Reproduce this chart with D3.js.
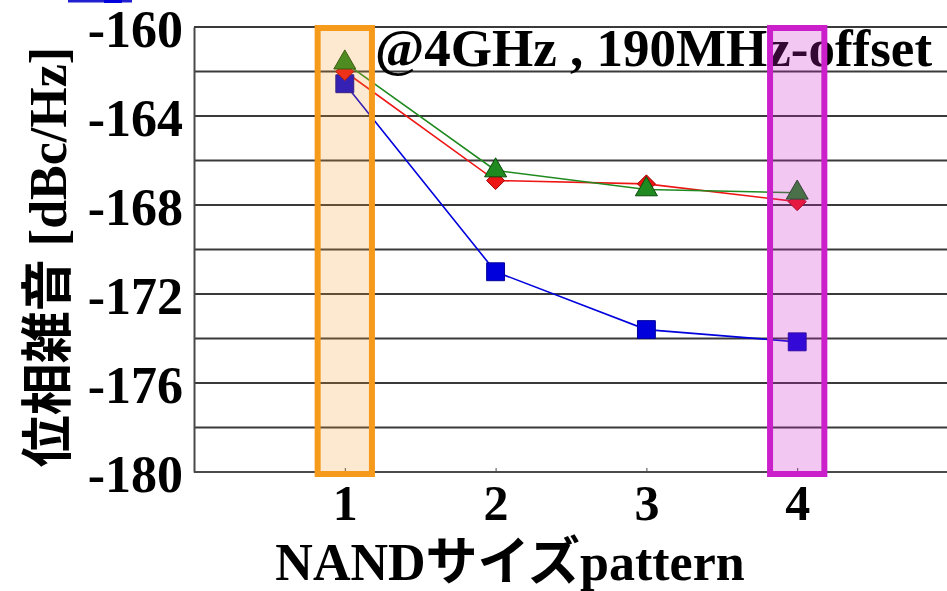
<!DOCTYPE html>
<html>
<head>
<meta charset="utf-8">
<script src="https://cdn.jsdelivr.net/npm/d3@7"></script>
<style>
  html, body { margin: 0; padding: 0; background: #fff; }
  svg { display: block; }
  text { font-family: "Liberation Serif", "Noto Sans CJK JP", serif; font-weight: bold; fill: #000; }
</style>
</head>
<body>
<svg id="chart" width="947" height="591"></svg>
<script>
// NAND size pattern vs. phase noise at 4 GHz, 190 MHz offset
const patterns = [1, 2, 3, 4];
const blueSeries  = [-162.55, -171.0, -173.6, -174.15];
const redSeries   = [-162.0, -166.9, -167.05, -167.85];
const greenSeries = [-161.6, -166.45, -167.3, -167.45];
const yTickLabels = [-180, -176, -172, -168, -164, -160];
const yGridValues = [-178, -176, -174, -172, -170, -168, -166, -164, -162, -160];
const highlighted = [1, 4];
const annotation = "@4GHz , 190MHz-offset";
const xTitle = "NANDサイズpattern";
const yTitle = "位相雑音 [dBc/Hz]";

const svg = d3.select("#chart");
const W = 947, H = 591;

const x = d3.scaleLinear().domain([0, 5]).range([194, 948]);
const y = d3.scaleLinear().domain([-180, -160]).range([472, 27]);

// horizontal gridlines
svg.append("g").selectAll("line").data(yGridValues).join("line")
  .attr("x1", x(0)).attr("x2", W)
  .attr("y1", d => y(d)).attr("y2", d => y(d))
  .attr("stroke", "#3a3a3a").attr("stroke-width", 2);

// axes (plain hyphen for negative labels)
const plain = d => String(d);
const yAxis = svg.append("g").attr("transform", `translate(${x(0)},0)`)
  .call(d3.axisLeft(y).tickValues(yTickLabels).tickSize(0).tickPadding(11).tickFormat(plain));
yAxis.select(".domain").attr("stroke", "#4a4a4a").attr("stroke-width", 2);
yAxis.selectAll("text").attr("font-size", 52).attr("dy", "0.37em")
  .style("font-family", "'Liberation Serif', serif").style("font-weight", "bold");

const xAxis = svg.append("g").attr("transform", `translate(0,${y(-180)})`)
  .call(d3.axisBottom(x).tickValues(patterns).tickSize(-4).tickPadding(20).tickFormat(plain));
xAxis.select(".domain").attr("d", `M${x(0)},0H${W}`).attr("stroke", "#4a4a4a").attr("stroke-width", 2);
xAxis.selectAll(".tick line").attr("stroke", "#4a4a4a").attr("stroke-width", 1);
xAxis.selectAll("text").attr("font-size", 50).attr("dy", "0.55em")
  .style("font-family", "'Liberation Serif', serif").style("font-weight", "bold");

// annotation text
svg.append("text").attr("x", 375).attr("y", 66).attr("font-size", 53).text(annotation);

// series lines and markers
const diamond = "M0,-9L9,0L0,9L-9,0Z";
const series = [
  { values: blueSeries,  color: "#0000dd", edge: "#00009a", path: d3.symbol().type(d3.symbolSquare).size(320)() },
  { values: redSeries,   color: "#ee1515", edge: "#a00000", path: diamond },
  { values: greenSeries, color: "#1f8a1f", edge: "#0c4a0c", path: d3.symbol().type(d3.symbolTriangle).size(210)() }
];
const line = d3.line().x((d, i) => x(patterns[i])).y(d => y(d));
series.forEach(s => {
  svg.append("path").attr("d", line(s.values))
    .attr("fill", "none").attr("stroke", s.color).attr("stroke-width", 1.6);
});
series.forEach(s => {
  svg.append("g").selectAll("path").data(s.values).join("path")
    .attr("d", s.path)
    .attr("transform", (d, i) => `translate(${x(patterns[i])},${y(d)})`)
    .attr("fill", s.color).attr("stroke", s.edge).attr("stroke-width", 1);
});

// highlight boxes around patterns 1 and 4
const boxStyles = { 1: { stroke: "#f59a1a", fill: "rgba(245,150,40,0.22)" },
                    4: { stroke: "#cc1fcc", fill: "rgba(204,34,204,0.25)" } };
const halfW = 0.18;
svg.append("g").selectAll("rect").data(highlighted).join("rect")
  .attr("x", d => x(d - halfW)).attr("width", d => x(d + halfW) - x(d - halfW))
  .attr("y", y(-160) + 1).attr("height", y(-180) - y(-160) + 1)
  .attr("fill", d => boxStyles[d].fill)
  .attr("stroke", d => boxStyles[d].stroke).attr("stroke-width", 6);

// legend entry partly above the frame
const legend = svg.append("g");
legend.append("line").attr("x1", 68).attr("x2", 132).attr("y1", 1).attr("y2", 1)
  .attr("stroke", "#2020d0").attr("stroke-width", 3);
legend.append("path").attr("d", d3.symbol().type(d3.symbolSquare).size(320))
  .attr("transform", "translate(113,-6)").attr("fill", "#0000dd");

// axis titles
svg.append("text").attr("x", 510).attr("y", 580).attr("text-anchor", "middle")
  .attr("font-size", 52).text(xTitle);
svg.append("text").attr("transform", "translate(66,257) rotate(-90)")
  .attr("text-anchor", "middle").attr("font-size", 52).text(yTitle);
</script>
</body>
</html>
